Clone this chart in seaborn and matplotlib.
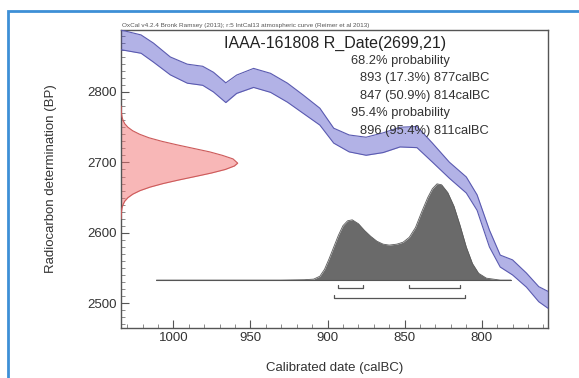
import numpy as np
import pandas as pd
import matplotlib
matplotlib.use('Agg')
import matplotlib.pyplot as plt
import matplotlib.patches as patches
from matplotlib.ticker import MultipleLocator
import seaborn as sns

# IntCal13 curve band (calBC, BP centre, BP half width)
cal_year = [1034, 1021, 1013, 1002, 991, 981, 974, 966, 959, 948, 937, 926, 916, 905,
            896, 886, 875, 864, 853, 842, 832, 821, 810, 803, 795, 788, 780, 771, 763, 757]
curve_bp = [2874, 2868, 2856, 2837, 2826, 2823, 2814, 2799, 2811, 2820, 2813, 2799, 2783, 2765,
            2738, 2727, 2723, 2728, 2736, 2736, 2714, 2689, 2668, 2643, 2592, 2560, 2551, 2533, 2513, 2505]
curve_err = [14, 13, 13.5, 12.7, 13.5, 13.5, 14, 14, 13, 13.5, 13.5, 13.5, 13, 12,
             10.6, 12, 12.8, 14, 14, 15, 13.5, 11.4, 11.4, 11, 12, 8.5, 10.7, 10, 10.7, 12]

# radiocarbon measurement R_Date(2699,21), relative probability
rc_bp = [2620, 2625, 2630, 2635, 2640, 2645, 2650, 2655, 2660, 2665, 2670, 2675, 2680, 2685, 2690, 2695,
         2699, 2705, 2710, 2715, 2720, 2725, 2730, 2735, 2740, 2745, 2750, 2755, 2760, 2765, 2770, 2775, 2780]
rc_prob = [0.001, 0.002, 0.004, 0.008, 0.017, 0.032, 0.059, 0.101, 0.163, 0.249, 0.360, 0.492, 0.635, 0.775, 0.893, 0.972,
           1.000, 0.960, 0.870, 0.760, 0.620, 0.480, 0.350, 0.240, 0.160, 0.100, 0.059, 0.032, 0.017, 0.008, 0.004, 0.002, 0.001]

# calibrated date distribution, relative probability
cal_x = [1011, 930, 915, 909, 905, 902, 899, 896, 893, 890, 887, 884, 880, 876, 872, 868, 864, 860, 855,
         851, 847, 843, 839, 835, 832, 829, 826, 822, 818, 814, 810, 806, 802, 797, 788, 781]
cal_prob = [0.0, 0.0, 0.004, 0.01, 0.04, 0.11, 0.22, 0.34, 0.46, 0.56, 0.61, 0.62, 0.58, 0.51, 0.45, 0.40, 0.37, 0.36, 0.37,
            0.39, 0.44, 0.54, 0.70, 0.85, 0.94, 0.99, 0.98, 0.90, 0.76, 0.56, 0.34, 0.17, 0.07, 0.02, 0.0, 0.0]

ranges_68 = [(893, 877), (847, 814)]
ranges_95 = [(896, 811)]

title = 'IAAA-161808 R_Date(2699,21)'
header = 'OxCal v4.2.4 Bronk Ramsey (2013); r:5 IntCal13 atmospheric curve (Reimer et al 2013)'
prob_lines = ['68.2% probability', '893 (17.3%) 877calBC', '847 (50.9%) 814calBC',
              '95.4% probability', '896 (95.4%) 811calBC']

sns.set_style('ticks')
plt.rcParams['font.family'] = ['Liberation Sans', 'DejaVu Sans']

W, H = 579, 378
fig = plt.figure(figsize=(W / 100, H / 100), dpi=100)
ax = fig.add_axes([121 / W, 1 - 328 / H, (548 - 121) / W, (328 - 30) / H])

x_left, x_right = 1034, 757
y_bot, y_top = 2465, 2888
ax.set_xlim(x_left, x_right)
ax.set_ylim(y_bot, y_top)

curve = pd.DataFrame({'year': cal_year, 'bp': curve_bp, 'err': curve_err})
curve['lo'] = curve['bp'] - curve['err']
curve['hi'] = curve['bp'] + curve['err']

# calibration curve band
ax.fill_between(curve['year'], curve['lo'], curve['hi'], color='#4848c4', alpha=0.42,
                lw=0, zorder=5)
sns.lineplot(x='year', y='hi', data=curve, ax=ax, color='#5a5ab0', lw=0.8, sort=False, zorder=6)
sns.lineplot(x='year', y='lo', data=curve, ax=ax, color='#5a5ab0', lw=0.8, sort=False, zorder=6)

# radiocarbon date on y axis
red_w = 75.7
rc = pd.DataFrame({'bp': rc_bp, 'p': rc_prob})
rc['x'] = x_left - rc['p'] * red_w
ax.fill_betweenx(rc['bp'], x_left, rc['x'], color='#f27070', alpha=0.5, lw=0, zorder=2)
ax.plot(rc['x'], rc['bp'], color='#cc5a5a', lw=0.8, zorder=3)

# calibrated distribution
base = 2533
gray_h = 138
cal = pd.DataFrame({'year': cal_x, 'p': cal_prob})
cal['y'] = base + cal['p'] * gray_h
ax.fill_between(cal['year'], base, cal['y'], color='#6a6a6a', lw=0, zorder=3)
sns.lineplot(x='year', y='y', data=cal, ax=ax, color='#5a5a5a', lw=0.6, sort=False, zorder=4)
ax.plot([1011, 781], [base, base], color='#555555', lw=0.8, zorder=4)

# range brackets
def bracket(a, b, y):
    ax.plot([a, a, b, b], [y + 4, y, y, y + 4], color='#555555', lw=0.9, zorder=4)

for a, b in ranges_68:
    bracket(a, b, 2522)
for a, b in ranges_95:
    bracket(a, b, 2508)

# axes styling
for s in ax.spines.values():
    s.set_color('#555555')
    s.set_linewidth(1.0)
ax.xaxis.set_major_locator(MultipleLocator(50))
ax.xaxis.set_minor_locator(MultipleLocator(10))
ax.yaxis.set_major_locator(MultipleLocator(100))
ax.yaxis.set_minor_locator(MultipleLocator(10))
ax.tick_params(which='major', direction='in', length=6, width=0.8, color='#555555',
               labelsize=9.5, labelcolor='#333333', pad=3)
ax.tick_params(which='minor', direction='in', length=3, width=0.6, color='#777777')
ax.set_xlabel('Calibrated date (calBC)', fontsize=9.5, color='#333333', labelpad=13)
ax.set_ylabel('Radiocarbon determination (BP)', fontsize=9.5, color='#333333', labelpad=22)

# texts
fig.text(122 / W, 1 - 25 / H, header, fontsize=4.6, color='#555555', va='center', ha='left')
fig.text(335 / W, 1 - 43 / H, title, fontsize=11.5, color='#222222', va='center', ha='center')
text_pos = [(351, 61), (360, 78), (360, 96), (351, 113), (360, 131)]
for (px, py), t in zip(text_pos, prob_lines):
    fig.text(px / W, 1 - py / H, t, fontsize=9.3, color='#333333', va='center', ha='left', zorder=1)

# outer frame
frame = patches.Rectangle((8 / W, -0.1), 2, 1 - 11 / H + 0.1, transform=fig.transFigure,
                          fill=False, edgecolor='#3d8fd6', lw=2, clip_on=False)
fig.patches.append(frame)

fig.savefig('out.png', dpi=100)
